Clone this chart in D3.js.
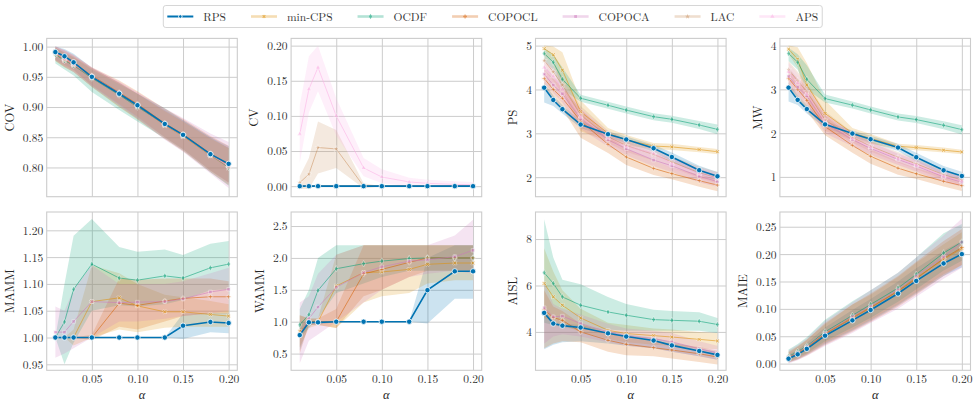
<!DOCTYPE html>
<html>
<head>
  <meta charset="utf-8">
  <script src="https://cdn.jsdelivr.net/npm/d3@7"></script>
  <style>
    body { margin: 0; background: #fff; }
    .grid line { stroke: #cccccc; stroke-width: 1; }
    .grid path { display: none; }
  </style>
</head>
<body>
<svg id="chart" width="977" height="405"></svg>
<script>
// x values (alpha levels)
const alphas = [0.01, 0.02, 0.03, 0.05, 0.08, 0.10, 0.13, 0.15, 0.18, 0.20];
const methods = ['RPS', 'min-CPS', 'OCDF', 'COPOCL', 'COPOCA', 'LAC', 'APS'];
const colors = ['#0173b2', '#de8f05', '#029e73', '#d55e00', '#cc78bc', '#ca9161', '#fbafe4'];
const xTicks = [0.05, 0.10, 0.15, 0.20];

// ---- COV ----
const covMean = [
  [0.991, 0.984, 0.974, 0.950, 0.922, 0.903, 0.872, 0.854, 0.822, 0.806],
  [0.988, 0.978, 0.970, 0.950, 0.922, 0.902, 0.870, 0.852, 0.820, 0.803],
  [0.987, 0.977, 0.969, 0.948, 0.920, 0.900, 0.872, 0.853, 0.821, 0.800],
  [0.990, 0.980, 0.972, 0.952, 0.924, 0.905, 0.873, 0.855, 0.823, 0.805],
  [0.989, 0.979, 0.970, 0.950, 0.923, 0.902, 0.871, 0.854, 0.822, 0.802],
  [0.988, 0.978, 0.970, 0.949, 0.921, 0.901, 0.870, 0.852, 0.820, 0.800],
  [0.990, 0.980, 0.971, 0.951, 0.922, 0.903, 0.871, 0.853, 0.821, 0.802]
];
const covLo = [
  [0.978, 0.970, 0.962, 0.935, 0.903, 0.882, 0.850, 0.830, 0.795, 0.775],
  [0.976, 0.966, 0.958, 0.933, 0.900, 0.880, 0.848, 0.828, 0.793, 0.772],
  [0.972, 0.962, 0.952, 0.925, 0.895, 0.876, 0.848, 0.828, 0.792, 0.770],
  [0.978, 0.968, 0.960, 0.936, 0.905, 0.884, 0.850, 0.830, 0.795, 0.775],
  [0.977, 0.967, 0.958, 0.934, 0.902, 0.880, 0.846, 0.826, 0.790, 0.766],
  [0.976, 0.966, 0.958, 0.933, 0.900, 0.879, 0.847, 0.827, 0.792, 0.770],
  [0.978, 0.968, 0.959, 0.935, 0.902, 0.882, 0.848, 0.828, 0.793, 0.772]
];
const covHi = [
  [1.000, 0.996, 0.988, 0.965, 0.940, 0.922, 0.895, 0.878, 0.850, 0.835],
  [0.998, 0.990, 0.983, 0.964, 0.940, 0.922, 0.893, 0.876, 0.848, 0.832],
  [0.998, 0.990, 0.982, 0.962, 0.938, 0.922, 0.898, 0.878, 0.850, 0.832],
  [1.000, 0.994, 0.986, 0.966, 0.944, 0.926, 0.897, 0.880, 0.852, 0.836],
  [1.000, 0.994, 0.985, 0.965, 0.942, 0.924, 0.898, 0.882, 0.856, 0.842],
  [0.999, 0.992, 0.984, 0.964, 0.940, 0.922, 0.894, 0.876, 0.848, 0.832],
  [1.000, 0.994, 0.986, 0.966, 0.942, 0.924, 0.896, 0.878, 0.850, 0.834]
];

// ---- CV ----
const cvMean = [
  [0, 0, 0, 0, 0, 0, 0, 0, 0, 0],
  [0, 0, 0, 0, 0, 0, 0, 0, 0, 0],
  [0, 0, 0, 0, 0, 0, 0, 0, 0, 0],
  [0, 0, 0, 0, 0, 0, 0, 0, 0, 0],
  [0, 0, 0, 0, 0, 0, 0, 0, 0, 0],
  [0.005, 0.017, 0.055, 0.053, 0.000, 0, 0, 0, 0, 0],
  [0.074, 0.138, 0.169, 0.100, 0.026, 0.013, 0.006, 0.004, 0.0025, 0.002]
];
const cvLo = [
  [0, 0, 0, 0, 0, 0, 0, 0, 0, 0],
  [0, 0, 0, 0, 0, 0, 0, 0, 0, 0],
  [0, 0, 0, 0, 0, 0, 0, 0, 0, 0],
  [0, 0, 0, 0, 0, 0, 0, 0, 0, 0],
  [0, 0, 0, 0, 0, 0, 0, 0, 0, 0],
  [-0.004, -0.004, 0.018, 0.026, -0.003, 0, 0, 0, 0, 0],
  [0.033, 0.105, 0.135, 0.072, 0.014, 0.004, 0.000, 0.000, 0.000, 0.000]
];
const cvHi = [
  [0, 0, 0, 0, 0, 0, 0, 0, 0, 0],
  [0, 0, 0, 0, 0, 0, 0, 0, 0, 0],
  [0, 0, 0, 0, 0, 0, 0, 0, 0, 0],
  [0, 0, 0, 0, 0, 0, 0, 0, 0, 0],
  [0, 0, 0, 0, 0, 0, 0, 0, 0, 0],
  [0.014, 0.040, 0.092, 0.080, 0.004, 0, 0, 0, 0, 0],
  [0.115, 0.185, 0.200, 0.125, 0.040, 0.024, 0.012, 0.009, 0.007, 0.006]
];

// ---- PS ----
const psMean = [
  [4.04, 3.76, 3.55, 3.20, 2.98, 2.86, 2.66, 2.46, 2.16, 2.02],
  [4.93, 4.79, 4.44, 3.49, 3.00, 2.85, 2.71, 2.69, 2.63, 2.58],
  [4.82, 4.62, 4.23, 3.80, 3.64, 3.53, 3.38, 3.32, 3.19, 3.09],
  [4.25, 4.00, 3.80, 3.28, 2.75, 2.46, 2.20, 2.08, 1.92, 1.82],
  [4.35, 4.10, 3.90, 3.33, 2.85, 2.65, 2.39, 2.26, 2.02, 1.90],
  [4.66, 4.40, 4.10, 3.42, 2.92, 2.72, 2.52, 2.35, 2.10, 1.98],
  [4.50, 4.30, 4.00, 3.38, 2.90, 2.70, 2.54, 2.31, 2.08, 1.97]
];
const psLo = [
  [3.70, 3.62, 3.45, 3.12, 2.90, 2.78, 2.58, 2.36, 2.06, 1.92],
  [4.80, 4.62, 4.00, 3.05, 2.82, 2.72, 2.64, 2.62, 2.57, 2.52],
  [4.65, 4.45, 4.00, 3.72, 3.56, 3.45, 3.30, 3.24, 3.10, 2.98],
  [4.05, 3.80, 3.55, 2.90, 2.55, 2.28, 2.05, 1.95, 1.78, 1.68],
  [4.15, 3.92, 3.70, 3.10, 2.70, 2.50, 2.25, 2.12, 1.88, 1.78],
  [4.45, 4.20, 3.90, 3.20, 2.78, 2.58, 2.38, 2.22, 1.98, 1.86],
  [4.30, 4.10, 3.80, 3.18, 2.76, 2.56, 2.40, 2.18, 1.96, 1.86]
];
const psHi = [
  [4.15, 3.86, 3.64, 3.28, 3.05, 2.93, 2.74, 2.56, 2.26, 2.12],
  [5.00, 4.98, 4.85, 3.75, 3.12, 2.96, 2.78, 2.76, 2.69, 2.64],
  [4.95, 4.80, 4.50, 3.88, 3.72, 3.61, 3.46, 3.40, 3.28, 3.20],
  [4.45, 4.25, 4.05, 3.55, 2.95, 2.65, 2.38, 2.22, 2.06, 1.95],
  [4.55, 4.30, 4.10, 3.55, 3.00, 2.80, 2.55, 2.42, 2.18, 2.05],
  [4.85, 4.60, 4.30, 3.62, 3.06, 2.86, 2.66, 2.48, 2.24, 2.12],
  [4.70, 4.50, 4.20, 3.58, 3.04, 2.84, 2.68, 2.44, 2.22, 2.10]
];

// ---- MW ----
const mwMean = [
  [3.04, 2.76, 2.55, 2.20, 1.99, 1.86, 1.67, 1.45, 1.15, 1.02],
  [3.92, 3.69, 3.10, 2.45, 2.00, 1.88, 1.70, 1.67, 1.61, 1.57],
  [3.82, 3.62, 3.23, 2.79, 2.64, 2.53, 2.37, 2.31, 2.18, 2.08],
  [3.25, 3.00, 2.75, 2.15, 1.72, 1.47, 1.20, 1.07, 0.90, 0.80],
  [3.30, 3.05, 2.85, 2.22, 1.85, 1.65, 1.40, 1.25, 1.00, 0.88],
  [3.45, 3.20, 2.95, 2.30, 1.90, 1.70, 1.45, 1.30, 1.05, 0.93],
  [3.40, 3.15, 2.90, 2.27, 1.88, 1.68, 1.42, 1.27, 1.02, 0.90]
];
const mwLo = [
  [2.72, 2.64, 2.45, 2.12, 1.91, 1.78, 1.59, 1.35, 1.05, 0.92],
  [3.80, 3.50, 2.70, 2.05, 1.85, 1.76, 1.64, 1.61, 1.56, 1.52],
  [3.65, 3.45, 3.00, 2.70, 2.56, 2.45, 2.29, 2.23, 2.09, 1.97],
  [3.05, 2.80, 2.50, 1.95, 1.55, 1.30, 1.05, 0.95, 0.78, 0.68],
  [3.10, 2.85, 2.65, 2.00, 1.70, 1.50, 1.27, 1.12, 0.88, 0.78],
  [3.25, 3.00, 2.75, 2.10, 1.78, 1.58, 1.33, 1.18, 0.94, 0.82],
  [3.20, 2.95, 2.70, 2.08, 1.76, 1.56, 1.30, 1.15, 0.92, 0.80]
];
const mwHi = [
  [3.15, 2.86, 2.64, 2.28, 2.06, 1.94, 1.75, 1.55, 1.25, 1.12],
  [4.00, 3.96, 3.60, 2.75, 2.12, 1.98, 1.76, 1.73, 1.67, 1.62],
  [3.95, 3.80, 3.55, 2.88, 2.72, 2.61, 2.45, 2.39, 2.27, 2.18],
  [3.45, 3.20, 2.95, 2.40, 1.90, 1.63, 1.35, 1.20, 1.03, 0.92],
  [3.50, 3.25, 3.05, 2.42, 2.00, 1.80, 1.53, 1.38, 1.12, 1.00],
  [3.65, 3.40, 3.15, 2.50, 2.02, 1.82, 1.57, 1.42, 1.16, 1.04],
  [3.60, 3.35, 3.10, 2.46, 2.00, 1.80, 1.54, 1.39, 1.12, 1.00]
];

// ---- MAMM (no LAC / APS) ----
const mammMean = [
  [1.000, 1.000, 1.000, 1.000, 1.000, 1.000, 1.000, 1.022, 1.029, 1.027],
  [1.000, 1.000, 1.000, 1.067, 1.074, 1.059, 1.048, 1.048, 1.043, 1.040],
  [1.000, 1.029, 1.090, 1.137, 1.111, 1.107, 1.115, 1.111, 1.130, 1.137],
  [1.000, 1.000, 1.000, 1.000, 1.064, 1.060, 1.068, 1.073, 1.076, 1.076],
  [1.010, 1.010, 1.030, 1.067, 1.065, 1.066, 1.067, 1.072, 1.085, 1.090],
  null, null
];
const mammLo = [
  [1.000, 1.000, 1.000, 1.000, 1.000, 1.000, 1.000, 0.997, 1.010, 1.008],
  [1.000, 1.000, 0.985, 1.000, 1.015, 1.010, 1.018, 1.020, 1.020, 1.020],
  [1.000, 0.950, 0.990, 1.050, 1.060, 1.058, 1.062, 1.070, 1.088, 1.090],
  [1.000, 1.000, 1.000, 0.995, 1.020, 1.015, 1.030, 1.040, 1.045, 1.045],
  [0.962, 0.970, 0.980, 1.000, 1.030, 1.030, 1.035, 1.040, 1.045, 1.050],
  null, null
];
const mammHi = [
  [1.000, 1.000, 1.000, 1.000, 1.000, 1.000, 1.000, 1.045, 1.046, 1.046],
  [1.000, 1.000, 1.015, 1.135, 1.120, 1.100, 1.080, 1.075, 1.068, 1.062],
  [1.000, 1.100, 1.190, 1.221, 1.169, 1.160, 1.164, 1.154, 1.175, 1.180],
  [1.000, 1.000, 1.000, 1.005, 1.110, 1.108, 1.110, 1.110, 1.110, 1.105],
  [1.058, 1.050, 1.090, 1.135, 1.100, 1.100, 1.100, 1.105, 1.120, 1.130],
  null, null
];

// ---- WAMM ----
const wammMean = [
  [0.79, 0.99, 0.99, 1.00, 1.00, 1.00, 1.00, 1.495, 1.79, 1.79],
  [0.85, 0.99, 1.00, 1.56, 1.77, 1.78, 1.82, 1.90, 1.92, 1.92],
  [0.95, 1.11, 1.49, 1.83, 1.91, 1.95, 1.99, 2.00, 2.00, 2.00],
  [0.80, 1.00, 1.00, 1.00, 1.75, 1.82, 1.93, 2.00, 2.00, 2.00],
  [0.80, 1.05, 1.23, 1.54, 1.77, 1.86, 1.95, 1.97, 2.02, 2.12],
  null, null
];
const wammLo = [
  [0.55, 0.95, 0.95, 1.00, 1.00, 1.00, 1.00, 0.97, 1.36, 1.36],
  [0.60, 0.90, 0.95, 0.90, 1.30, 1.40, 1.45, 1.60, 1.65, 1.65],
  [0.75, 0.90, 1.05, 1.45, 1.60, 1.70, 1.80, 1.80, 1.80, 1.80],
  [0.50, 0.95, 0.95, 0.90, 1.40, 1.50, 1.70, 1.80, 1.80, 1.80],
  [0.35, 0.70, 0.80, 1.00, 1.30, 1.50, 1.70, 1.75, 1.80, 1.75],
  null, null
];
const wammHi = [
  [1.00, 1.00, 1.00, 1.00, 1.00, 1.00, 1.00, 2.00, 2.20, 2.20],
  [1.10, 1.05, 1.05, 2.05, 2.20, 2.20, 2.20, 2.20, 2.20, 2.20],
  [1.20, 1.50, 2.00, 2.20, 2.20, 2.20, 2.20, 2.20, 2.20, 2.20],
  [1.10, 1.05, 1.05, 1.20, 2.20, 2.20, 2.20, 2.20, 2.20, 2.20],
  [1.30, 1.40, 1.75, 2.05, 2.20, 2.20, 2.20, 2.20, 2.35, 2.60],
  null, null
];

// ---- AISL ----
const aislMean = [
  [4.82, 4.36, 4.27, 4.19, 3.94, 3.80, 3.63, 3.42, 3.18, 3.01],
  [6.09, 5.51, 5.15, 4.60, 4.07, 3.93, 3.84, 3.78, 3.68, 3.61],
  [6.55, 6.09, 5.51, 5.15, 4.86, 4.72, 4.53, 4.50, 4.46, 4.32],
  [4.96, 4.62, 4.50, 4.00, 3.64, 3.47, 3.32, 3.22, 3.06, 2.92],
  [5.04, 4.65, 4.68, 4.36, 4.00, 3.83, 3.71, 3.57, 3.28, 3.09],
  null, null
];
const aislLo = [
  [3.25, 3.45, 3.55, 3.60, 3.50, 3.40, 3.30, 3.15, 2.95, 2.80],
  [4.60, 4.50, 4.30, 4.00, 3.70, 3.55, 3.45, 3.40, 3.30, 3.25],
  [4.40, 4.30, 4.20, 4.10, 4.10, 4.05, 4.05, 4.05, 4.05, 3.95],
  [3.30, 3.50, 3.60, 3.55, 3.15, 3.00, 2.95, 2.85, 2.70, 2.60],
  [3.50, 3.80, 3.90, 3.80, 3.55, 3.40, 3.30, 3.15, 2.95, 2.80],
  null, null
];
const aislHi = [
  [4.95, 4.45, 4.35, 4.30, 4.05, 3.90, 3.75, 3.55, 3.30, 3.15],
  [7.60, 6.60, 5.80, 5.00, 4.40, 4.30, 4.15, 4.10, 4.00, 3.95],
  [8.85, 7.20, 6.25, 6.05, 5.50, 5.20, 4.95, 4.90, 4.85, 4.60],
  [5.80, 5.10, 4.90, 4.35, 3.95, 3.75, 3.60, 3.50, 3.35, 3.20],
  [6.20, 5.20, 5.00, 4.75, 4.35, 4.15, 4.05, 3.95, 3.60, 3.40],
  null, null
];

// ---- MAIE ----
const maieMean = [
  [0.009, 0.017, 0.027, 0.051, 0.079, 0.098, 0.128, 0.151, 0.183, 0.200],
  [0.012, 0.020, 0.030, 0.055, 0.085, 0.103, 0.133, 0.157, 0.190, 0.210],
  [0.013, 0.022, 0.032, 0.058, 0.088, 0.108, 0.138, 0.163, 0.202, 0.222],
  [0.011, 0.019, 0.029, 0.054, 0.083, 0.102, 0.132, 0.155, 0.192, 0.212],
  [0.012, 0.020, 0.031, 0.056, 0.086, 0.105, 0.135, 0.160, 0.195, 0.222],
  null, null
];
const maieLo = [
  [0.002, 0.008, 0.016, 0.036, 0.060, 0.078, 0.106, 0.128, 0.160, 0.176],
  [0.003, 0.009, 0.017, 0.038, 0.062, 0.080, 0.108, 0.130, 0.163, 0.180],
  [0.004, 0.011, 0.019, 0.041, 0.066, 0.084, 0.113, 0.136, 0.170, 0.188],
  [0.002, 0.007, 0.015, 0.034, 0.058, 0.076, 0.104, 0.126, 0.160, 0.180],
  [0.000, 0.006, 0.014, 0.032, 0.056, 0.074, 0.100, 0.122, 0.155, 0.175],
  null, null
];
const maieHi = [
  [0.016, 0.026, 0.038, 0.066, 0.098, 0.118, 0.150, 0.174, 0.206, 0.224],
  [0.022, 0.032, 0.044, 0.072, 0.108, 0.126, 0.158, 0.184, 0.218, 0.240],
  [0.026, 0.036, 0.048, 0.080, 0.114, 0.134, 0.166, 0.194, 0.238, 0.255],
  [0.020, 0.031, 0.043, 0.074, 0.108, 0.128, 0.160, 0.186, 0.224, 0.246],
  [0.024, 0.034, 0.046, 0.078, 0.112, 0.134, 0.166, 0.194, 0.234, 0.265],
  null, null
];

// tick values per panel
const covTicks = [0.80, 0.85, 0.90, 0.95, 1.00];
const cvTicks = [0.00, 0.05, 0.10, 0.15, 0.20];
const psTicks = [2, 3, 4, 5];
const mwTicks = [1, 2, 3, 4];
const mammTicks = [0.95, 1.00, 1.05, 1.10, 1.15, 1.20];
const wammTicks = [0.5, 1.0, 1.5, 2.0, 2.5];
const aislTicks = [4, 6, 8];
const maieTicks = [0.00, 0.05, 0.10, 0.15, 0.20, 0.25];

const panels = [
  { label: 'COV', mean: covMean, lo: covLo, hi: covHi, ylim: [0.7516, 1.0136], ticks: covTicks, fmt: '.2f' },
  { label: 'CV', mean: cvMean, lo: cvLo, hi: cvHi, ylim: [-0.015, 0.2103], ticks: cvTicks, fmt: '.2f' },
  { label: 'PS', mean: psMean, lo: psLo, hi: psHi, ylim: [1.555, 5.164], ticks: psTicks, fmt: 'd' },
  { label: 'MW', mean: mwMean, lo: mwLo, hi: mwHi, ylim: [0.547, 4.165], ticks: mwTicks, fmt: 'd' },
  { label: 'MAMM', mean: mammMean, lo: mammLo, hi: mammHi, ylim: [0.9388, 1.2342], ticks: mammTicks, fmt: '.2f' },
  { label: 'WAMM', mean: wammMean, lo: wammLo, hi: wammHi, ylim: [0.238, 2.72], ticks: wammTicks, fmt: '.1f' },
  { label: 'AISL', mean: aislMean, lo: aislLo, hi: aislHi, ylim: [2.347, 9.165], ticks: aislTicks, fmt: 'd' },
  { label: 'MAIE', mean: maieMean, lo: maieLo, hi: maieHi, ylim: [-0.0122, 0.2769], ticks: maieTicks, fmt: '.2f' }
];

// layout
const left0 = 46.7, colStep = 244.4, pw = 190.6;
const rowTops = [38.4, 212], ph = 158.3;
const serif = '"Latin Modern Roman"';

const symbols = [
  d3.symbolCircle, d3.symbolCross, d3.symbolDiamond, d3.symbolCross,
  d3.symbolSquare, d3.symbolStar, d3.symbolTriangle
];
const symRot = [0, 45, 0, 0, 0, 0, 0];

const svg = d3.select('#chart');

panels.forEach((p, pi) => {
  const col = pi % 4, row = Math.floor(pi / 4);
  const x0 = left0 + col * colStep, y0 = rowTops[row];

  const x = d3.scaleLinear().domain([0.0005, 0.2095]).range([0, pw]);
  const y = d3.scaleLinear().domain(p.ylim).range([ph, 0]);

  const g = svg.append('g').attr('transform', `translate(${x0},${y0})`);

  g.append('clipPath').attr('id', 'clip' + pi)
    .append('rect').attr('width', pw).attr('height', ph);

  // grid + y tick labels
  const yAxis = g.append('g').attr('class', 'grid')
    .call(d3.axisLeft(y).tickValues(p.ticks).tickSize(-pw).tickPadding(3.5)
      .tickFormat(d3.format(p.fmt)));
  yAxis.selectAll('text').attr('dy', '0.34em');

  const xAxis = g.append('g').attr('class', 'grid')
    .attr('transform', `translate(0,${ph})`)
    .call(d3.axisBottom(x).tickValues(xTicks).tickSize(-ph).tickPadding(4.5)
      .tickFormat(d3.format('.2f')));
  if (row === 0) xAxis.selectAll('text').remove();

  g.selectAll('.tick text')
    .style('font-family', serif).style('font-size', '11.5px').style('fill', '#333');

  // spines
  g.append('rect').attr('width', pw).attr('height', ph)
    .attr('fill', 'none').attr('stroke', '#cccccc').attr('stroke-width', 1.1);

  const plot = g.append('g').attr('clip-path', `url(#clip${pi})`);

  const area = d3.area()
    .x((d, i) => x(alphas[i]))
    .y0(d => y(d[0]))
    .y1(d => y(d[1]));
  const line = d3.line()
    .x((d, i) => x(alphas[i]))
    .y(d => y(d));

  const order = [0, 1, 2, 3, 4, 5, 6];
  // bands
  order.forEach(m => {
    if (!p.mean[m]) return;
    const band = p.lo[m].map((v, i) => [v, p.hi[m][i]]);
    plot.append('path').datum(band)
      .attr('d', area)
      .attr('fill', colors[m])
      .attr('fill-opacity', 0.2);
  });
  // other methods' lines and markers
  order.slice(1).forEach(m => {
    if (!p.mean[m]) return;
    plot.append('path').datum(p.mean[m])
      .attr('d', line)
      .attr('fill', 'none')
      .attr('stroke', colors[m])
      .attr('stroke-width', 1)
      .attr('stroke-opacity', 0.55);
    plot.selectAll(null).data(p.mean[m]).enter().append('path')
      .attr('d', d3.symbol().type(symbols[m]).size(13))
      .attr('transform', (d, i) => `translate(${x(alphas[i])},${y(d)}) rotate(${symRot[m]})`)
      .attr('fill', colors[m])
      .attr('stroke', '#fff')
      .attr('stroke-width', 0.8)
      .attr('opacity', 0.45);
  });
  // RPS on top
  plot.append('path').datum(p.mean[0])
    .attr('d', line)
    .attr('fill', 'none')
    .attr('stroke', colors[0])
    .attr('stroke-width', 1.6);
  plot.selectAll(null).data(p.mean[0]).enter().append('circle')
    .attr('cx', (d, i) => x(alphas[i]))
    .attr('cy', d => y(d))
    .attr('r', 2.7)
    .attr('fill', colors[0])
    .attr('stroke', '#fff')
    .attr('stroke-width', 0.8);

  // y label
  const bb = yAxis.node().getBBox();
  g.append('text')
    .attr('transform', `translate(${bb.x - 9},${ph / 2}) rotate(-90)`)
    .attr('text-anchor', 'middle')
    .style('font-family', serif)
    .style('font-size', '12.5px')
    .style('fill', '#262626')
    .text(p.label);

  if (row === 1) {
    g.append('text')
      .attr('x', pw / 2).attr('y', ph + 28.5)
      .attr('text-anchor', 'middle')
      .style('font-family', serif)
      .style('font-size', '12.5px')
      .style('font-style', 'italic')
      .style('fill', '#262626')
      .text('α');
  }
});

// legend
const leg = svg.append('g');
const legBox = leg.append('rect')
  .attr('y', 5.5).attr('height', 22)
  .attr('rx', 2.5)
  .attr('fill', '#fff').attr('stroke', '#d6d6d6').attr('stroke-width', 1);
let lx = 167.3;
const ly = 16.5;
methods.forEach((name, m) => {
  const isMain = m === 0;
  leg.append('line')
    .attr('x1', lx).attr('x2', lx + 26).attr('y1', ly).attr('y2', ly)
    .attr('stroke', colors[m])
    .attr('stroke-width', isMain ? 2 : 2.6)
    .attr('stroke-opacity', isMain ? 1 : 0.3);
  if (isMain) {
    leg.append('circle').attr('cx', lx + 13).attr('cy', ly).attr('r', 1.8)
      .attr('fill', colors[0]).attr('stroke', '#fff').attr('stroke-width', 0.9);
  } else {
    leg.append('path')
      .attr('d', d3.symbol().type(symbols[m]).size(8))
      .attr('transform', `translate(${lx + 13},${ly}) rotate(${symRot[m]})`)
      .attr('fill', colors[m]).attr('opacity', 0.5);
  }
  const t = leg.append('text')
    .attr('x', lx + 36).attr('y', ly).attr('dy', '0.35em')
    .style('font-family', serif)
    .style('font-size', '11.5px').style('fill', '#333')
    .text(name);
  lx = lx + 36 + t.node().getComputedTextLength() + 25;
});
legBox.attr('x', 163.3).attr('width', lx - 25 + 4 - 163.3);
</script>
</body>
</html>
